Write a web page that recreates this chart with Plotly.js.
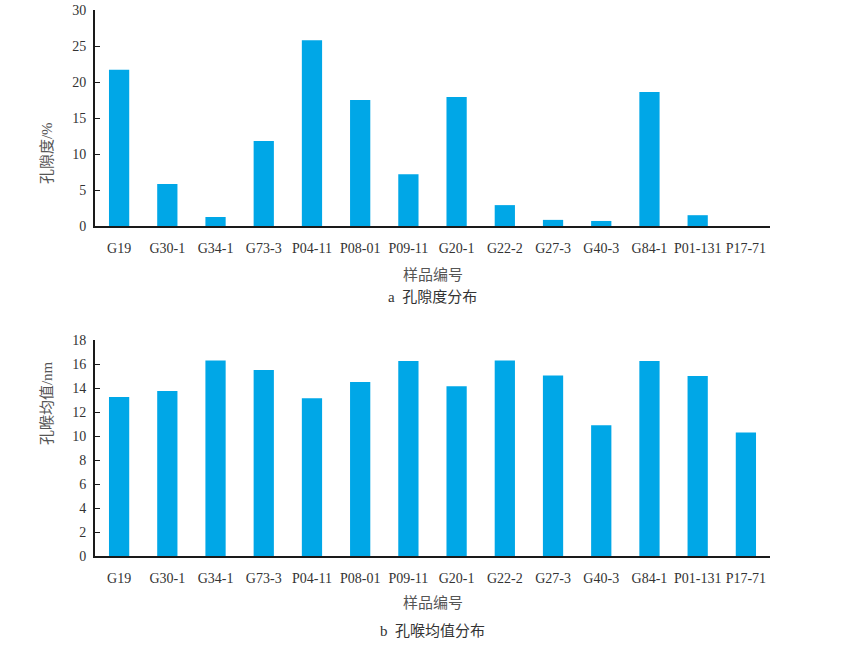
<!DOCTYPE html>
<html><head><meta charset="utf-8">
<script src="https://cdn.plot.ly/plotly-3.0.1.min.js"></script>
<style>body{margin:0;background:#fff}</style>
</head><body>
<div id="chart" style="width:845px;height:648px"></div>
<script>
const samples = ["G19","G30-1","G34-1","G73-3","P04-11","P08-01","P09-11","G20-1","G22-2","G27-3","G40-3","G84-1","P01-131","P17-71"];
const porosity = [21.7,5.85,1.25,11.8,25.8,17.5,7.2,17.9,2.9,0.85,0.7,18.6,1.5,0];
const poreThroatMean = [13.25,13.75,16.3,15.5,13.15,14.5,16.25,14.15,16.3,15.05,10.9,16.25,15.0,10.3];
const yTitleA = "孔隙度/%";
const yTitleB = "孔喉均值/nm";
const xTitle = "样品编号";
const captionA = "a  孔隙度分布";
const captionB = "b  孔喉均值分布";

const barColor = "#00a7e7";
const fontFam = "'Liberation Serif', 'Times New Roman', 'DejaVu Serif', 'Noto Sans CJK SC', serif";
const tickFont = {family: fontFam, size: 14, color: "#333"};

const traces = [
  {type:"bar", x:samples, y:porosity, xaxis:"x", yaxis:"y", marker:{color:barColor}, width:0.42, hoverinfo:"none"},
  {type:"bar", x:samples, y:poreThroatMean, xaxis:"x2", yaxis:"y2", marker:{color:barColor}, width:0.42, hoverinfo:"none"}
];

const yCommon = {showgrid:false, zeroline:false, showline:true, linecolor:"#1a1a1a", linewidth:2,
  ticks:"inside", ticklen:5, tickcolor:"#1a1a1a", tickwidth:1, tickfont:tickFont, ticklabelstandoff:4};
const xCommon = {showgrid:false, zeroline:false, showline:true, linecolor:"#1a1a1a", linewidth:2,
  ticks:"", tickfont:tickFont, range:[-0.5,13.5], tickangle:0, ticklabelstandoff:8};

const titleFont = {family: fontFam, size: 15, color:"#555"};
const capFont = {family: fontFam, size: 15, color:"#333"};

const layout = {
  width:845, height:648,
  margin:{l:95, r:75, t:10, b:92},
  paper_bgcolor:"#fff", plot_bgcolor:"#fff",
  showlegend:false,
  font:{family:fontFam},
  xaxis:Object.assign({}, xCommon, {domain:[0,1], anchor:"y"}),
  yaxis:Object.assign({}, yCommon, {domain:[0.6044,1], range:[0,30], dtick:5, anchor:"x"}),
  xaxis2:Object.assign({}, xCommon, {domain:[0,1], anchor:"y2"}),
  yaxis2:Object.assign({}, yCommon, {domain:[0,0.3956], range:[0,18], dtick:2, anchor:"x2"}),
  annotations:[
    {text:yTitleA, xref:"paper", yref:"paper", x:-0.071, xanchor:"center", y:0.7985, textangle:-90, showarrow:false, font:titleFont},
    {text:yTitleB, xref:"paper", yref:"paper", x:-0.071, xanchor:"center", y:0.1996, textangle:-90, showarrow:false, font:titleFont},
    {text:xTitle, xref:"paper", yref:"paper", x:0.5, y:0.533, yanchor:"top", showarrow:false, font:titleFont},
    {text:captionA, xref:"paper", yref:"paper", x:0.5, y:0.4927, yanchor:"top", showarrow:false, font:capFont},
    {text:xTitle, xref:"paper", yref:"paper", x:0.5, y:-0.0678, yanchor:"top", showarrow:false, font:titleFont},
    {text:captionB, xref:"paper", yref:"paper", x:0.5, y:-0.119, yanchor:"top", showarrow:false, font:capFont}
  ]
};
Plotly.newPlot("chart", traces, layout, {displayModeBar:false, staticPlot:true});
</script>
</body></html>
